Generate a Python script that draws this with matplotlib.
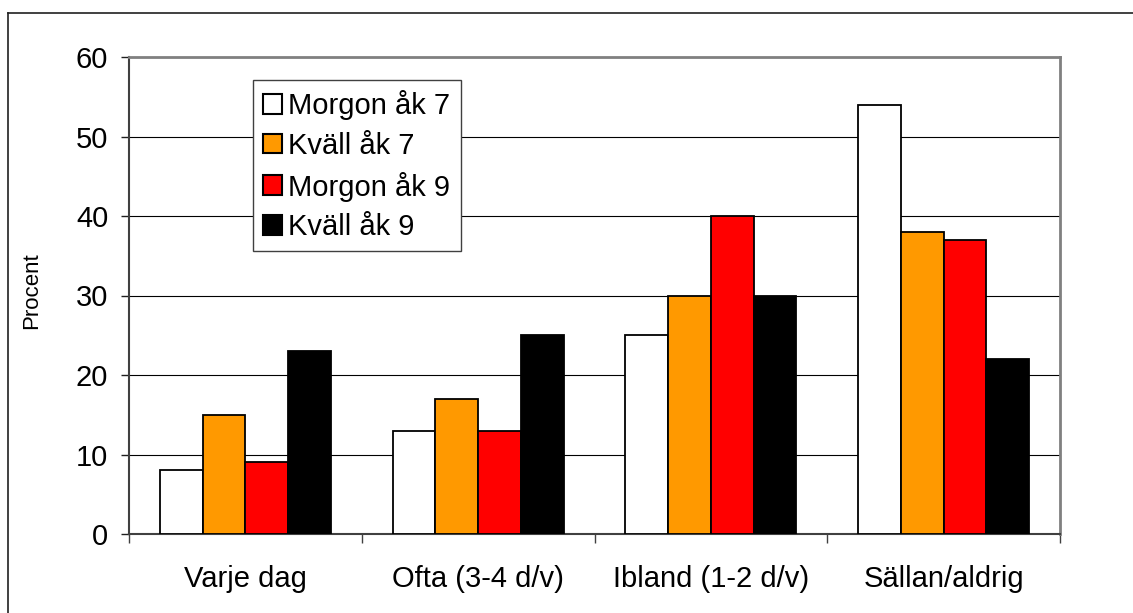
import numpy as np
import matplotlib
matplotlib.use("Agg")
import matplotlib.pyplot as plt
from matplotlib.lines import Line2D

plt.rcParams["font.family"] = ["Liberation Sans", "DejaVu Sans"]

categories = ["Varje dag", "Ofta (3-4 d/v)", "Ibland (1-2 d/v)", "Sällan/aldrig"]
series = ["Morgon åk 7", "Kväll åk 7", "Morgon åk 9", "Kväll åk 9"]
morgon_ak7 = [8, 13, 25, 54]
kvall_ak7 = [15, 17, 30, 38]
morgon_ak9 = [9, 13, 40, 37]
kvall_ak9 = [23, 25, 30, 22]
colors = ["#FFFFFF", "#FF9900", "#FF0000", "#000000"]

values = [morgon_ak7, kvall_ak7, morgon_ak9, kvall_ak9]

fig = plt.figure(figsize=(11.33, 6.13), dpi=100)
ax = fig.add_axes([129 / 1133, 1 - 534 / 613, (1060 - 129) / 1133, (534 - 57) / 613])

# frame around the whole chart (only top and left edges fall inside the image)
fig.add_artist(Line2D([8 / 1133, 8 / 1133], [0, 1 - 13 / 613], transform=fig.transFigure,
                      color="#202020", lw=1.2))
fig.add_artist(Line2D([8 / 1133, 1], [1 - 13 / 613, 1 - 13 / 613], transform=fig.transFigure,
                      color="#202020", lw=1.2))

x = np.arange(len(categories))
w = 0.1835
for j, (name, vals) in enumerate(zip(series, values)):
    ax.bar(x + (j - 1.5) * w, vals, width=w, color=colors[j], edgecolor="black",
           linewidth=1.3, label=name, zorder=3)

ax.set_xlim(-0.5, len(categories) - 0.5)
ax.set_ylim(0, 60)
ax.set_yticks(range(0, 61, 10))
ax.set_yticklabels([str(v) for v in range(0, 61, 10)], fontsize=21)
ax.tick_params(axis="y", direction="out", length=6, width=1, color="#202020", pad=9)

ax.set_xticks(x)
ax.set_xticklabels(categories, fontsize=21)
ax.tick_params(axis="x", which="major", length=0, pad=22)
ax.set_xticks(np.arange(-0.5, len(categories), 1.0), minor=True)
ax.tick_params(axis="x", which="minor", direction="out", length=6.5, width=1, color="#404040")

ax.yaxis.grid(True, color="black", lw=0.8, zorder=0)
ax.set_axisbelow(True)

for side in ["top", "right"]:
    ax.spines[side].set_color("#808080")
    ax.spines[side].set_linewidth(2)
for side in ["left", "bottom"]:
    ax.spines[side].set_color("#404040")
    ax.spines[side].set_linewidth(1.5)

ax.set_ylabel("Procent", fontsize=16)
ax.yaxis.set_label_coords(-0.093, 0.51)

leg = ax.legend(loc="upper left", bbox_to_anchor=(253 / 1133, 1 - 80 / 613),
                bbox_transform=fig.transFigure, borderaxespad=0, fontsize=21,
                handlelength=0.66, handleheight=0.66, handletextpad=0.2,
                labelspacing=0.4, borderpad=0.35, fancybox=False, framealpha=1)
leg.get_frame().set_edgecolor("#404040")
leg.get_frame().set_linewidth(1)
for h in leg.legend_handles:
    h.set_linewidth(1.5)

fig.savefig("out.png", dpi=100)
